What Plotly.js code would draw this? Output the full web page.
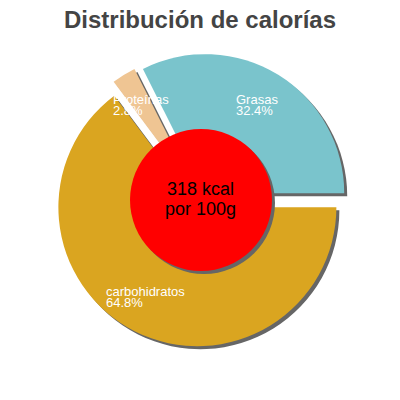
<!DOCTYPE html>
<html>
<head>
<meta charset="utf-8">
<script src="https://cdn.plot.ly/plotly-3.0.1.min.js"></script>
<style>html,body{margin:0;padding:0;background:#fff;}#chart{width:400px;height:400px;}</style>
</head>
<body>
<div id="chart"></div>
<script>
const labels = ["Grasas", "carbohidratos", "Proteínas"];
const values = [32.4, 64.8, 2.8];
const colors = ["#7ac4cc", "#daa520", "#efc593"];
const centerLine1 = "318 kcal";
const centerLine2 = "por 100g";
const titleText = "Distribución de calorías";

const W = 400, H = 400;
const cx = 201, cy = 200, R = 139, pull = 0.058;
const half = R * (1 + pull);
const sh = 3;
function dom(ox, oy) {
  return {
    x: [(cx - half + ox) / W, (cx + half + ox) / W],
    y: [1 - (cy + half + oy) / H, 1 - (cy - half + oy) / H]
  };
}
const total = values.reduce((a, b) => a + b, 0);
const rotation = -360 * values[0] / total + 90;
const common = {
  type: "pie", values: values, labels: labels, sort: false,
  direction: "clockwise", rotation: rotation,
  pull: values.map(() => pull), textinfo: "none", hoverinfo: "skip",
  showlegend: false
};
const shadow = Object.assign({}, common, {
  domain: dom(sh, sh),
  marker: {colors: values.map(() => "#666666"), line: {width: 0}}
});
const main = Object.assign({}, common, {
  domain: dom(0, 0),
  marker: {colors: colors, line: {width: 0}}
});

const FONT = "Liberation Sans, Arial, sans-serif";
function line(text, x, yMid, size, color, anchor) {
  return {xref: "paper", yref: "paper", x: x / W, y: 1 - yMid / H,
    xanchor: anchor, yanchor: "middle", showarrow: false, borderpad: 0,
    text: text, font: {family: FONT, size: size, color: color}};
}
// label anchor: left x, first-line baseline y
const labelPos = [[235, 104], [105, 296], [112, 104]];
const annotations = [];
labels.forEach((l, i) => {
  const [lx, by] = labelPos[i];
  annotations.push(line(l, lx, by - 4.5, 13, "#ffffff", "left"));
  annotations.push(line((values[i] / total * 100).toFixed(1) + "%", lx, by + 11 - 4.5, 13, "#ffffff", "left"));
});
annotations.push(line(centerLine1, 201, 195.5 - 6.3, 18, "#000000", "center"));
annotations.push(line(centerLine2, 201, 215 - 6.3, 18, "#000000", "center"));

const rc = 71, rcx = 201, rcy = 200;
function circ(x, y, r, color) {
  return {type: "circle", xref: "paper", yref: "paper",
    x0: (x - r) / W, x1: (x + r) / W, y0: 1 - (y + r) / H, y1: 1 - (y - r) / H,
    fillcolor: color, line: {width: 0}, layer: "above"};
}

const layout = {
  width: W, height: H, margin: {l: 0, r: 0, t: 0, b: 0},
  paper_bgcolor: "#ffffff", plot_bgcolor: "#ffffff",
  showlegend: false,
  title: {text: "<b>" + titleText + "</b>", x: 0.5, xanchor: "center",
    y: 1 - 20 / H, yanchor: "middle", yref: "container",
    font: {family: FONT, size: 24, color: "#444444"}},
  shapes: [circ(rcx + 3, rcy + 3, rc, "#666666"), circ(rcx, rcy, rc, "#ff0000")],
  annotations: annotations
};
Plotly.newPlot("chart", [shadow, main], layout, {staticPlot: true, displayModeBar: false});
</script>
</body>
</html>
